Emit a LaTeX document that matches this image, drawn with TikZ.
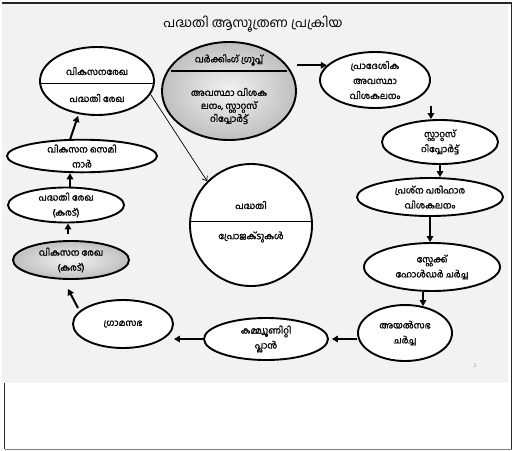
\documentclass[tikz,border=0pt]{standalone}
\usepackage{fontspec}
\newfontfamily\ml[Script=Malayalam]{Hind Kochi}
\newfontfamily\mlb[Script=Malayalam,FakeBold=1.6]{Hind Kochi}
\usetikzlibrary{shapes.geometric,arrows.meta,calc}
\definecolor{bggray}{HTML}{F2F2F2}
\begin{document}
\begin{tikzpicture}[x=1pt,y=-1pt,
  ell/.style={ellipse,draw,line width=1.9pt,fill=white,inner sep=0pt,align=center,
              font=\mlb\fontsize{9}{15}\selectfont},
  shd/.style={inner color=gray!10,outer color=gray!50},
  txt/.style={inner sep=0pt,align=center,font=\mlb\fontsize{9}{13}\selectfont},
  arr/.style={line width=2pt,-{Triangle[length=6pt,width=6.5pt]}},
  thinarr/.style={line width=0.7pt,-{Straight Barb[length=4pt,width=6pt]}}]
\useasboundingbox (0,0) rectangle (513,450);
% frame
\fill[bggray] (2,4) rectangle (508,383);
\draw[line width=1.5pt,black!85] (2,3) -- (511.5,3);
\draw[line width=1.2pt,black!85] (511.5,2.5) -- (511.5,450);
\draw[line width=1.2pt,black!85] (4.5,383) -- (4.5,449);
\draw[line width=0.8pt,gray] (4.5,449.3) -- (511.5,449.3);
% title
\node[inner sep=0pt,font=\ml\fontsize{13}{15}\selectfont] (title) at (253,24) {പദ്ധതി ആസൂത്രണ പ്രക്രിയ};
% split ellipse (left top)
\node[ell,minimum width=114pt,minimum height=68pt] (split) at (97,81) {};
\draw[line width=0.7pt] ($(split.west)+(0,2)$) -- ($(split.east)+(0,2)$);
\node[txt] (splitt) at (97,71) {വികസനരേഖ};
\node[txt] (splitb) at (97,98) {പദ്ധതി രേഖ};
% working group
\node[ell,shd,minimum width=134pt,minimum height=98pt] (wg) at (229,91) {};
\draw[line width=1.8pt] ($(wg.center)+(-58,-20)$) -- ($(wg.center)+(58,-20)$);
\node[txt] (wgt) at (229,60) {വർക്കിംഗ് ഗ്രൂപ്പ്};
\node[txt] (wgb) at (229,106) {അവസ്ഥാ വിശക\\ലനം, സ്റ്റാറ്റസ്\\റിപ്പോർട്ട്};
% right chain
\node[ell,minimum width=110pt,minimum height=56pt] (pradesh) at (375,80) {പ്രാദേശിക\\അവസ്ഥാ\\വിശകലനം};
\node[ell,minimum width=116pt,minimum height=44pt] (status) at (440,142) {സ്റ്റാറ്റസ്\\റിപ്പോർട്ട്};
\node[ell,minimum width=146pt,minimum height=38pt] (prashna) at (430,197) {പ്രശ്ന പരിഹാര\\വിശകലനം};
\node[ell,minimum width=136pt,minimum height=48pt] (stake) at (432,267) {സ്റ്റേക്ക്\\ഹോൾഡർ ചർച്ച};
\node[ell,minimum width=94pt,minimum height=56pt] (ayal) at (405,333) {അയൽസഭ\\ചർച്ച};
\node[ell,minimum width=124pt,minimum height=42pt] (comm) at (266,339) {കമ്മ്യൂണിറ്റി\\പ്ലാൻ};
\node[ell,minimum width=100pt,minimum height=48pt] (grama) at (123,324) {ഗ്രാമസഭ};
\node[ell,shd,minimum width=116pt,minimum height=38pt] (vkarad) at (71,260) {വികസന രേഖ\\(കരട്)};
\node[ell,minimum width=116pt,minimum height=34pt] (pkarad) at (66,205) {പദ്ധതി രേഖ\\(കരട്)};
\node[ell,minimum width=150pt,minimum height=32pt] (semi) at (82,156) {വികസന സെമി\\നാർ};
% big circle
\node[draw,circle,line width=1.9pt,fill=white,minimum size=122pt,inner sep=0pt] (big) at (251,225) {};
\draw[line width=0.7pt] ($(big.west)+(0,-4)$) -- ($(big.east)+(0,-4)$);
\node[txt] (bigt) at (251,205) {പദ്ധതി};
\node[txt] (bigb) at (251,237) {പ്രോജക്ടുകൾ};
% page number
\node[inner sep=0pt,font=\sffamily\fontsize{5}{6}\selectfont,text=gray] (pg) at (475,366) {2};
% connectors
\draw[arr] (wg.east |- pradesh.163) -- (pradesh.163);
\draw[arr] (pradesh.east |- pradesh.-45) -- (pradesh.east |- status.north);
\draw[arr] (status.south) -- (status.south |- prashna.north);
\draw[arr] (prashna.south) -- (prashna.south |- stake.north);
\draw[arr] ($(stake.south)+(-9,0)$) -- ($(stake.south |- ayal.north)+(-9,2)$);
\draw[arr,shorten >=3pt] (ayal.west |- comm.east) -- (comm.east);
\draw[arr] (comm.west) -- (grama.east |- comm.west);
\draw[arr] ($(grama)+(-45,-16)$) -- ($(vkarad)+(-3,29)$);
\draw[arr,shorten <=6pt] ($(vkarad.north)+(-3,0)$) -- ($(pkarad.south)+(2,0)$);
\draw[arr] ($(pkarad.north)+(4,0)$) -- ($(pkarad.north |- semi.south)+(4,0)$);
\draw[arr] ($(semi.north)+(-12,1)$) -- ($(split.south)+(-19,0)$);
\draw[thinarr] (split.-14) -- (big.135);
\end{tikzpicture}
\end{document}
